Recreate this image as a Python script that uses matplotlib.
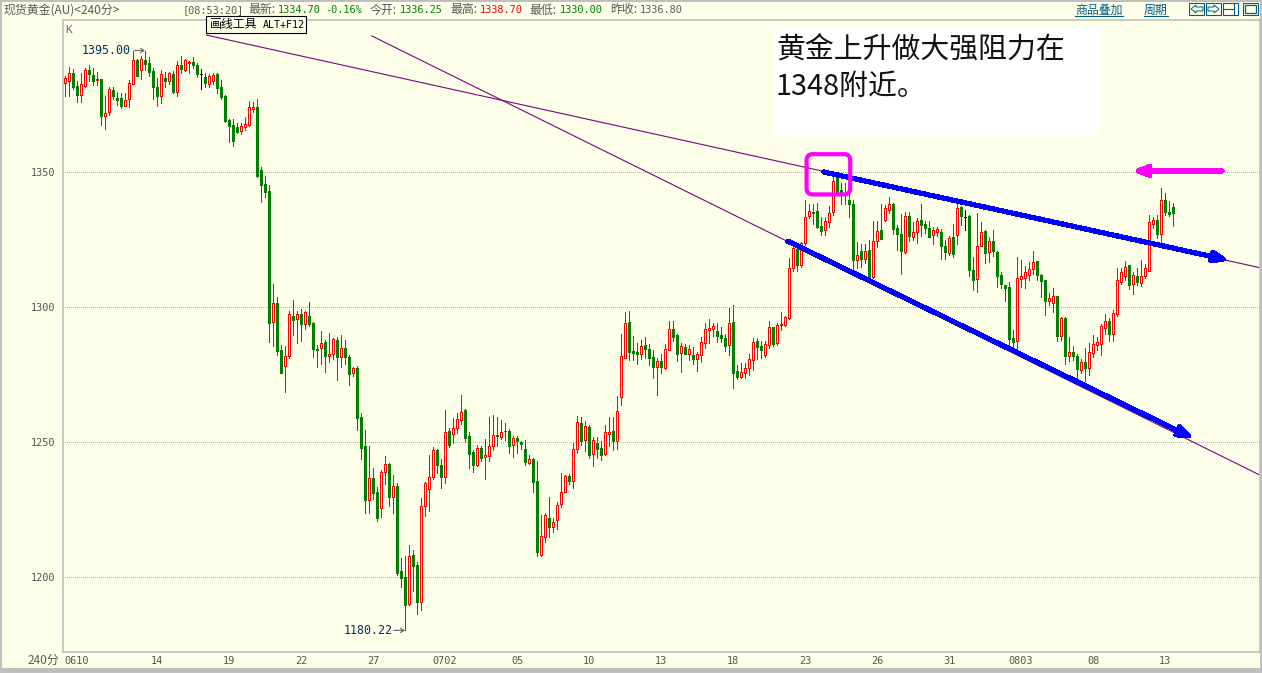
import matplotlib
matplotlib.use('Agg')
import matplotlib.pyplot as plt
from matplotlib.lines import Line2D
from matplotlib.patches import Rectangle, FancyBboxPatch, Polygon
import numpy as np

W, H = 1262, 673
BG = '#FDFFE9'
FRAME = '#C0BEBE'
CJK = ['Noto Sans CJK SC', 'DejaVu Sans']
MONO = ['DejaVu Sans Mono', 'Noto Sans CJK SC']

opens = [
    1383.1, 1383.6, 1386.6, 1381.9, 1378.4, 1381.7, 1387.8, 1385.9, 1384.1, 1384.5,
    1370.9, 1372.4, 1380.3, 1377.3, 1377.4, 1374.6, 1376.9, 1382.7, 1391.5, 1387.9,
    1391.5, 1390.4, 1387.4, 1381.5, 1378.3, 1384.8, 1383.8, 1386.3, 1379.8, 1389.5,
    1387.9, 1390.3, 1390.6, 1389.6, 1386.4, 1385.2, 1382.7, 1383.8, 1386.4, 1381.5,
    1378.2, 1369.3, 1367.4, 1366.6, 1365.3, 1366.8, 1367.4, 1373.5, 1374.0, 1350.6,
    1345.4, 1342.9, 1294.6, 1301.5, 1284.1, 1278.3, 1282.0, 1296.7, 1295.4, 1297.4,
    1293.8, 1296.7, 1294.1, 1284.4, 1284.7, 1287.0, 1282.0, 1282.5, 1287.8, 1281.3,
    1284.8, 1281.5, 1275.7, 1277.4, 1259.2, 1248.5, 1228.6, 1236.7, 1231.5, 1225.4,
    1239.0, 1241.8, 1229.7, 1233.7, 1202.2, 1200.0, 1190.1, 1208.1, 1204.4, 1190.9,
    1226.2, 1232.5, 1237.0, 1247.0, 1241.5, 1237.1, 1254.1, 1252.9, 1255.3, 1258.3,
    1261.8, 1252.3, 1246.2, 1241.4, 1247.7, 1244.6, 1245.0, 1248.7, 1252.5, 1251.9,
    1253.9, 1254.1, 1249.0, 1251.4, 1249.9, 1247.3, 1242.4, 1243.7, 1235.6, 1208.3,
    1215.0, 1221.8, 1218.7, 1221.0, 1227.2, 1231.4, 1237.3, 1235.5, 1247.3, 1257.1,
    1250.7, 1255.6, 1245.5, 1249.5, 1247.7, 1245.5, 1253.1, 1254.1, 1250.3, 1266.5,
    1281.2, 1294.5, 1283.7, 1283.3, 1282.7, 1285.9, 1284.5, 1281.5, 1277.9, 1280.0,
    1277.4, 1284.2, 1291.9, 1289.6, 1283.1, 1285.2, 1282.7, 1282.2, 1280.7, 1282.4,
    1286.8, 1291.5, 1291.9, 1291.1, 1289.6, 1288.5, 1285.8, 1294.5, 1276.3, 1274.0,
    1275.6, 1277.4, 1280.4, 1287.4, 1285.6, 1282.2, 1285.9, 1292.5, 1286.7, 1293.3,
    1293.3, 1295.9, 1314.6, 1321.4, 1315.5, 1323.8, 1333.8, 1335.0, 1335.4, 1329.9,
    1328.5, 1331.6, 1335.1, 1347.7, 1343.2, 1342.4, 1339.8, 1338.1, 1317.5, 1320.7,
    1317.7, 1321.1, 1311.2, 1324.5, 1328.5, 1332.2, 1336.0, 1338.1, 1329.1, 1327.0,
    1320.4, 1333.7, 1325.9, 1327.6, 1332.2, 1330.7, 1329.1, 1326.7, 1327.6, 1327.7,
    1322.5, 1320.1, 1325.8, 1326.5, 1336.9, 1333.5, 1333.7, 1313.7, 1310.5, 1322.6,
    1328.1, 1320.5, 1324.4, 1320.3, 1311.8, 1308.1, 1307.4, 1288.5, 1287.5, 1310.5,
    1310.8, 1311.9, 1314.0, 1317.0, 1311.8, 1310.0, 1302.3, 1301.4, 1303.9, 1289.2,
    1295.9, 1281.9, 1283.5, 1281.8, 1276.6, 1279.6, 1277.4, 1282.9, 1285.9, 1286.3,
    1292.2, 1294.8, 1290.0, 1297.4, 1309.3, 1311.4, 1315.5, 1308.5, 1311.4, 1309.0,
    1311.4, 1313.4, 1330.8, 1332.2, 1327.1, 1339.6, 1335.1, 1336.9,
]
highs = [
    1385.6, 1388.8, 1388.0, 1383.6, 1386.6, 1388.4, 1389.6, 1388.4, 1387.2, 1384.6,
    1378.2, 1381.5, 1381.4, 1379.6, 1379.4, 1379.1, 1384.1, 1395.0, 1391.7, 1393.0,
    1395.0, 1392.5, 1388.5, 1384.7, 1387.8, 1387.0, 1387.0, 1387.4, 1391.1, 1393.0,
    1392.0, 1391.2, 1392.5, 1390.5, 1388.0, 1386.6, 1386.2, 1386.7, 1386.8, 1384.1,
    1378.5, 1369.5, 1369.5, 1368.0, 1368.2, 1370.3, 1376.3, 1376.1, 1377.1, 1351.9,
    1348.5, 1345.2, 1308.5, 1303.7, 1285.9, 1285.5, 1298.5, 1302.6, 1298.5, 1299.3,
    1298.6, 1301.8, 1294.3, 1285.9, 1291.1, 1287.8, 1290.2, 1288.4, 1288.8, 1289.6,
    1287.8, 1282.2, 1277.9, 1278.1, 1260.6, 1254.4, 1248.5, 1240.2, 1233.2, 1239.6,
    1244.8, 1242.3, 1237.8, 1234.7, 1206.9, 1207.8, 1211.8, 1210.0, 1205.7, 1229.2,
    1235.3, 1245.2, 1248.0, 1247.4, 1243.7, 1261.8, 1255.1, 1259.0, 1260.8, 1267.4,
    1262.1, 1253.7, 1247.1, 1248.9, 1248.7, 1251.0, 1259.3, 1260.0, 1259.4, 1258.2,
    1257.1, 1254.9, 1252.3, 1252.3, 1250.4, 1250.7, 1245.2, 1244.0, 1243.0, 1223.0,
    1223.6, 1229.7, 1221.8, 1227.7, 1238.4, 1237.8, 1238.2, 1249.5, 1259.8, 1259.2,
    1257.8, 1256.3, 1251.8, 1251.8, 1250.4, 1256.2, 1259.3, 1259.3, 1267.1, 1290.0,
    1298.2, 1298.5, 1289.3, 1286.6, 1287.8, 1288.9, 1286.3, 1284.1, 1281.0, 1282.6,
    1286.3, 1294.8, 1294.8, 1290.0, 1286.7, 1286.3, 1285.9, 1285.2, 1283.3, 1288.9,
    1294.1, 1295.6, 1294.1, 1294.1, 1292.6, 1290.0, 1299.6, 1300.7, 1278.5, 1279.3,
    1279.3, 1282.5, 1288.5, 1288.5, 1287.4, 1287.4, 1294.8, 1292.6, 1294.1, 1298.2,
    1296.7, 1318.3, 1322.4, 1322.9, 1324.1, 1339.6, 1338.3, 1338.3, 1338.7, 1333.4,
    1333.3, 1337.4, 1348.2, 1348.5, 1345.8, 1345.9, 1342.7, 1339.6, 1323.9, 1323.3,
    1323.2, 1324.8, 1331.8, 1331.8, 1338.3, 1337.7, 1340.8, 1338.6, 1330.3, 1334.6,
    1335.1, 1335.1, 1331.6, 1332.8, 1338.3, 1331.9, 1331.7, 1329.7, 1329.5, 1329.0,
    1324.8, 1326.2, 1330.9, 1338.3, 1337.4, 1336.1, 1334.0, 1318.4, 1334.7, 1331.4,
    1328.5, 1325.9, 1328.5, 1320.7, 1312.9, 1308.1, 1309.2, 1291.4, 1318.4, 1317.4,
    1315.1, 1316.8, 1320.7, 1317.0, 1312.2, 1310.0, 1305.1, 1307.0, 1304.0, 1296.3,
    1296.3, 1288.9, 1285.5, 1282.6, 1280.6, 1284.8, 1286.6, 1289.6, 1288.9, 1293.7,
    1297.4, 1295.9, 1298.9, 1314.4, 1314.4, 1317.0, 1315.5, 1312.9, 1314.4, 1317.4,
    1315.9, 1334.0, 1333.4, 1334.0, 1343.9, 1342.1, 1339.2, 1338.4,
]
lows = [
    1378.2, 1378.2, 1380.9, 1375.9, 1375.9, 1381.5, 1383.8, 1382.4, 1382.4, 1367.4,
    1366.1, 1371.2, 1376.9, 1374.8, 1373.7, 1374.3, 1374.2, 1382.7, 1385.6, 1384.5,
    1387.8, 1385.6, 1377.1, 1374.5, 1375.7, 1381.6, 1382.6, 1379.3, 1378.2, 1386.6,
    1387.4, 1386.6, 1388.5, 1385.3, 1380.9, 1381.6, 1381.4, 1382.6, 1379.4, 1376.9,
    1368.5, 1361.1, 1359.6, 1364.3, 1364.1, 1365.6, 1367.0, 1372.4, 1348.2, 1338.9,
    1340.9, 1287.2, 1285.5, 1282.2, 1275.7, 1268.6, 1281.2, 1289.6, 1286.5, 1287.5,
    1291.8, 1293.1, 1281.6, 1277.9, 1278.9, 1276.0, 1279.7, 1280.9, 1273.0, 1277.9,
    1278.9, 1271.1, 1274.6, 1254.4, 1243.7, 1223.8, 1223.8, 1228.9, 1220.7, 1222.3,
    1234.4, 1226.3, 1223.8, 1200.7, 1196.4, 1180.22, 1189.6, 1194.8, 1186.4, 1187.8,
    1222.6, 1224.6, 1236.3, 1238.6, 1233.1, 1234.9, 1248.2, 1249.7, 1253.5, 1256.7,
    1250.0, 1240.4, 1238.9, 1241.1, 1242.8, 1236.3, 1243.0, 1247.2, 1248.6, 1251.1,
    1250.8, 1246.1, 1244.5, 1245.8, 1247.3, 1241.5, 1242.0, 1231.5, 1207.6, 1207.6,
    1213.0, 1214.9, 1216.7, 1217.8, 1226.0, 1231.3, 1234.5, 1233.1, 1246.1, 1248.9,
    1246.5, 1243.9, 1241.1, 1244.0, 1243.4, 1245.3, 1248.7, 1247.1, 1247.4, 1263.7,
    1281.2, 1280.4, 1280.4, 1278.9, 1280.7, 1281.0, 1278.5, 1273.7, 1267.4, 1275.6,
    1277.2, 1284.1, 1287.4, 1280.0, 1275.9, 1282.6, 1280.4, 1278.9, 1276.3, 1279.6,
    1284.7, 1286.7, 1289.3, 1287.0, 1287.0, 1283.7, 1282.2, 1270.0, 1273.3, 1273.8,
    1273.7, 1274.8, 1276.7, 1280.7, 1281.1, 1281.6, 1284.8, 1285.6, 1285.9, 1291.5,
    1293.0, 1295.6, 1313.3, 1313.3, 1314.9, 1322.9, 1332.9, 1330.9, 1329.3, 1326.5,
    1326.5, 1329.7, 1334.0, 1341.4, 1338.1, 1338.3, 1333.4, 1313.0, 1314.6, 1314.9,
    1316.4, 1310.3, 1310.7, 1322.2, 1325.1, 1331.9, 1334.9, 1327.2, 1321.1, 1312.2,
    1320.1, 1324.5, 1324.8, 1323.8, 1326.2, 1327.5, 1325.8, 1323.3, 1326.2, 1317.7,
    1317.7, 1319.1, 1318.6, 1323.5, 1330.3, 1328.5, 1311.4, 1306.3, 1305.5, 1322.6,
    1316.4, 1316.6, 1318.9, 1307.4, 1307.0, 1302.2, 1284.0, 1283.3, 1283.3, 1307.5,
    1307.0, 1310.0, 1312.4, 1310.0, 1303.7, 1297.0, 1300.7, 1298.1, 1287.4, 1287.7,
    1278.8, 1280.0, 1280.3, 1272.9, 1275.4, 1272.6, 1274.8, 1281.6, 1284.0, 1282.2,
    1290.0, 1287.5, 1287.4, 1296.6, 1308.7, 1310.0, 1306.6, 1304.8, 1308.1, 1307.7,
    1310.6, 1313.4, 1329.1, 1325.5, 1322.9, 1334.0, 1333.7, 1330.0,
]
closes = [
    1384.8, 1386.6, 1381.6, 1378.7, 1382.6, 1387.7, 1386.4, 1383.8, 1384.3, 1370.9,
    1371.7, 1380.6, 1378.3, 1376.8, 1374.5, 1376.6, 1382.9, 1391.5, 1385.7, 1391.7,
    1390.0, 1387.0, 1381.5, 1378.2, 1386.2, 1383.7, 1386.6, 1379.6, 1389.5, 1388.2,
    1391.5, 1390.6, 1389.6, 1386.4, 1386.4, 1383.0, 1385.4, 1385.9, 1381.2, 1377.8,
    1368.9, 1367.0, 1361.5, 1364.9, 1367.0, 1367.7, 1374.0, 1374.0, 1348.5, 1345.3,
    1342.6, 1294.2, 1301.4, 1283.8, 1275.7, 1281.7, 1297.3, 1295.2, 1297.3, 1293.8,
    1298.0, 1293.8, 1284.6, 1284.2, 1286.5, 1282.0, 1282.5, 1288.0, 1281.6, 1285.0,
    1281.5, 1275.2, 1277.3, 1259.0, 1247.9, 1228.5, 1236.6, 1231.2, 1221.8, 1238.8,
    1241.7, 1229.7, 1233.6, 1201.6, 1199.7, 1189.6, 1207.6, 1204.2, 1190.9, 1226.2,
    1234.7, 1236.9, 1246.9, 1241.5, 1237.0, 1253.6, 1249.0, 1255.1, 1258.4, 1261.0,
    1251.6, 1245.7, 1241.3, 1247.7, 1244.2, 1245.1, 1248.4, 1252.5, 1252.4, 1253.6,
    1254.0, 1248.7, 1251.4, 1250.4, 1249.4, 1242.6, 1243.6, 1235.3, 1209.4, 1215.1,
    1222.9, 1218.7, 1220.3, 1226.6, 1231.4, 1237.3, 1235.6, 1247.3, 1257.3, 1250.5,
    1255.8, 1245.3, 1250.9, 1247.4, 1245.3, 1253.6, 1253.6, 1250.2, 1261.4, 1281.9,
    1294.1, 1283.5, 1283.0, 1282.6, 1285.4, 1284.5, 1281.1, 1277.8, 1279.9, 1277.8,
    1284.3, 1291.7, 1288.9, 1282.6, 1285.4, 1282.6, 1284.3, 1280.7, 1282.5, 1287.0,
    1291.7, 1292.2, 1292.8, 1289.3, 1288.5, 1285.6, 1294.1, 1275.6, 1274.0, 1275.8,
    1277.3, 1280.6, 1287.0, 1285.2, 1284.1, 1286.2, 1292.6, 1286.3, 1293.3, 1293.6,
    1296.2, 1314.6, 1321.7, 1315.5, 1323.8, 1333.5, 1335.4, 1334.9, 1329.6, 1328.2,
    1331.7, 1335.0, 1346.5, 1342.5, 1342.0, 1341.3, 1338.1, 1317.4, 1319.1, 1317.7,
    1320.9, 1310.9, 1324.6, 1328.3, 1325.3, 1336.5, 1338.0, 1329.0, 1327.2, 1320.7,
    1333.7, 1326.2, 1327.6, 1332.0, 1330.2, 1329.2, 1325.9, 1328.5, 1329.0, 1322.5,
    1320.3, 1325.5, 1319.6, 1336.5, 1333.7, 1333.5, 1313.7, 1310.0, 1322.6, 1327.7,
    1320.0, 1324.3, 1320.7, 1311.4, 1308.5, 1307.0, 1288.1, 1287.0, 1310.6, 1311.3,
    1313.0, 1313.9, 1316.5, 1311.8, 1309.6, 1302.2, 1303.5, 1304.0, 1289.2, 1295.9,
    1281.8, 1283.2, 1281.8, 1277.0, 1279.6, 1277.4, 1283.3, 1286.3, 1287.2, 1292.9,
    1294.8, 1290.0, 1297.7, 1310.0, 1312.8, 1314.7, 1308.1, 1311.8, 1309.2, 1311.4,
    1314.3, 1331.4, 1332.1, 1327.2, 1339.8, 1335.1, 1334.4, 1334.8,
]

date_ticks = [3, 23, 41, 59, 77, 95, 113, 131, 149, 167, 185, 203, 221, 239, 257, 275]
date_labels = ['0610', '14', '19', '22', '27', '0702', '05', '10', '13', '18',
               '23', '26', '31', '0803', '08', '13']
price_ticks = [1200, 1250, 1300, 1350]

# drawn lines, as (candle index, price) pairs
purple_a = ([35.4, 299.2], [1400.7, 1314.4])
purple_b = ([76.7, 299.2], [1400.4, 1237.4])
blue_a = ([189.7, 291.0], [1350.0, 1317.3])
blue_b = ([180.7, 282.2], [1324.4, 1251.3])
pink_arrow = ([289.3, 266.8], [1350.4, 1350.4])
pink_box = (185.4, 196.3, 1341.7, 1356.6)
extreme_marks = [(16.5, 17.4, 20, 1395.0), (81.9, 82.2, 85, 1180.22)]


def fx(x):
    return x / W


def fy(y):
    return 1 - y / H


def draw_arrow(ax, line, color):
    ax.annotate('', xy=(line[0][1], line[1][1]), xytext=(line[0][0], line[1][0]),
                arrowprops=dict(arrowstyle='-|>,head_length=0.85,head_width=0.32', color=color,
                                lw=3, shrinkA=0, shrinkB=0, antialiased=False), zorder=6)


fig = plt.figure(figsize=(W / 100, H / 100), dpi=100, facecolor=BG)
ax = fig.add_axes([fx(63), fy(652), fx(1260 - 63), (652 - 20) / H], facecolor=BG)
# candle 0 sits on pixel 65, 4 px per candle
ax.set_xlim((63 - 65) / 4, (1260 - 65) / 4)
ax.set_ylim(1350 - (652 - 172) / 2.7, 1350 + (172 - 20) / 2.7)

for s in ax.spines.values():
    s.set_color(FRAME)
    s.set_linewidth(1.2)

ax.set_yticks(price_ticks)
ax.set_yticklabels([str(p) for p in price_ticks], family=MONO, fontsize=7.4, color='#555555')
ax.set_xticks(date_ticks)
ax.set_xticklabels(date_labels, family=MONO, fontsize=7.4, color='#555555')
ax.tick_params(length=0)
ax.tick_params(axis='y', pad=5.5)
ax.tick_params(axis='x', pad=3)

for p in price_ticks:
    ax.axhline(p, color='#B4B4B4', lw=0.72, ls=(0, (1, 2)), zorder=1, antialiased=False)

ax.plot(*purple_a, color='#800080', lw=0.8, zorder=2)
ax.plot(*purple_b, color='#800080', lw=0.8, zorder=2)

# candles
idx = np.arange(len(opens))
o = np.array(opens)
h = np.array(highs)
l = np.array(lows)
c = np.array(closes)
colors = np.where(c > o, '#FF0000', np.where(c < o, '#008000', '#000000'))
faces = np.where(c > o, BG, colors)
bottoms = np.minimum(o, c)
heights = np.abs(c - o)

ax.vlines(idx, l, h, colors=colors, lw=0.72, zorder=3, antialiased=False)
ax.bar(idx, heights, bottom=bottoms, width=0.5, color=faces, edgecolor=colors,
       linewidth=0.72, zorder=4, antialiased=False)

# drawn arrows and highlight box
draw_arrow(ax, blue_a, '#0000FF')
draw_arrow(ax, blue_b, '#0000FF')
draw_arrow(ax, pink_arrow, '#FF00FF')
x0, x1, y0, y1 = pink_box
ax.add_patch(FancyBboxPatch((x0, y0), x1 - x0, y1 - y0, boxstyle='round,pad=0,rounding_size=1.5',
                            mutation_aspect=1.48, fill=False, edgecolor='#FF00FF', lw=3, zorder=6))

# extreme labels
for xt, xa, xb, price in extreme_marks:
    ax.annotate('', xy=(xb, price), xytext=(xa, price),
                arrowprops=dict(arrowstyle='->,head_length=0.25,head_width=0.15', color='#666666',
                                lw=0.8, shrinkA=0, shrinkB=0), zorder=5)
    ax.text(xt, price, f'{price:.2f}', family=MONO, fontsize=8.4, color='#003060',
            ha='right', va='center', zorder=5)
fig.text(fx(65), fy(30), 'K', family=MONO, fontsize=8, color='#8060A0', va='center')

# frame around the window
fig.add_artist(Rectangle((0, fy(673)), 1, 5 / H, transform=fig.transFigure, color=FRAME, lw=0))
fig.add_artist(Rectangle((0, fy(1.5)), 1, 1.5 / H, transform=fig.transFigure, color=FRAME, lw=0))
fig.add_artist(Rectangle((0, 0), 2 / W, 1, transform=fig.transFigure, color=FRAME, lw=0))
fig.add_artist(Rectangle((fx(1260), 0), 2 / W, 1, transform=fig.transFigure, color=FRAME, lw=0))

# header
GREY = '#5A5A5A'
GREEN = '#008000'
header_cjk = [(3, '现货黄金(AU)<240分>', GREY), (248, '最新:', GREY), (370, '今开:', GREY),
              (450, '最高:', GREY), (529, '最低:', GREY), (610, '昨收:', GREY)]
header_num = [(183, '[08:53:20]', GREY), (278, '1334.70', GREEN), (325, '-0.16%', GREEN),
              (400, '1336.25', GREEN), (480, '1338.70', '#FF0000'), (560, '1330.00', GREEN),
              (640, '1336.80', GREY)]
for x, txt, col in header_cjk:
    fig.text(fx(x), fy(10), txt, family=CJK, fontsize=8.6, color=col, va='center')
for x, txt, col in header_num:
    fig.text(fx(x), fy(10), txt, family=MONO, fontsize=7.4, color=col, va='center')

fig.text(fx(28), fy(660), '240分', family=CJK, fontsize=8.6, color=GREY, va='center')

# tooltip
fig.add_artist(Rectangle((fx(206), fy(33)), 100 / W, 17 / H, transform=fig.transFigure,
                         facecolor=BG, edgecolor='black', lw=0.8, zorder=7))
fig.text(fx(209.5), fy(24.5), '画线工具', family=CJK, fontsize=8.6, color='black', va='center', zorder=8)
fig.text(fx(263), fy(24.5), 'ALT+F12', family=MONO, fontsize=7.2, color='black', va='center', zorder=8)

# right toolbar
LINK = '#005F87'
fig.text(fx(1075), fy(10), '商品叠加', family=CJK, fontsize=8.6, color=LINK, va='center')
fig.text(fx(1144), fy(10), '周期', family=CJK, fontsize=8.6, color=LINK, va='center')
fig.add_artist(Line2D([fx(1075), fx(1123)], [fy(16), fy(16)], color=LINK, lw=0.8))
fig.add_artist(Line2D([fx(1144), fx(1168)], [fy(16), fy(16)], color=LINK, lw=0.8))
for bx in [1189, 1206, 1223, 1243]:
    fig.add_artist(Rectangle((fx(bx), fy(15)), 15 / W, 12 / H, transform=fig.transFigure,
                             fill=False, edgecolor=LINK, lw=0.8))
fig.add_artist(Polygon([(fx(1191), fy(9)), (fx(1196), fy(5)), (fx(1196), fy(7)), (fx(1203), fy(7)),
                        (fx(1203), fy(11)), (fx(1196), fy(11)), (fx(1196), fy(13))],
                       transform=fig.transFigure, fill=False, edgecolor=LINK, lw=0.7))
fig.add_artist(Polygon([(fx(1219), fy(9)), (fx(1214), fy(5)), (fx(1214), fy(7)), (fx(1208), fy(7)),
                        (fx(1208), fy(11)), (fx(1214), fy(11)), (fx(1214), fy(13))],
                       transform=fig.transFigure, fill=False, edgecolor=LINK, lw=0.7))
fig.add_artist(Line2D([fx(1223), fx(1234)], [fy(9), fy(9)], color=LINK, lw=0.8))
fig.add_artist(Line2D([fx(1234), fx(1234)], [fy(3), fy(15)], color=LINK, lw=0.8))
fig.add_artist(Rectangle((fx(1245), fy(13)), 11 / W, 8 / H, transform=fig.transFigure,
                         fill=False, edgecolor=LINK, lw=0.9))

# note box
fig.add_artist(Rectangle((fx(773), fy(135)), 326 / W, 108 / H, transform=fig.transFigure,
                         facecolor='white', lw=0, zorder=9))
fig.text(fx(776), fy(51), '黄金上升做大强阻力在', family=CJK, fontsize=20.8, color='#111111',
         va='center', zorder=10)
fig.text(fx(776), fy(87), '1348附近。', family=CJK, fontsize=20.8, color='#111111',
         va='center', zorder=10)

fig.savefig('out.png', dpi=100, facecolor=BG)
